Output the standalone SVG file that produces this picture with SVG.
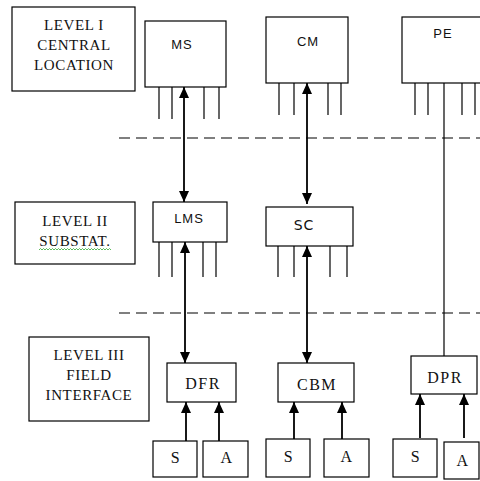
<svg xmlns="http://www.w3.org/2000/svg" width="480" height="481" viewBox="0 0 480 481">
<defs>
<style>
.box{fill:#fff;stroke:#000;stroke-width:1.2}
.pin{stroke:#000;stroke-width:1.2}
.lvl{font-family:"Liberation Serif","Times New Roman",serif;font-size:15px;letter-spacing:0.6px;text-anchor:middle;fill:#111}
.ser{font-family:"Liberation Serif","Times New Roman",serif;font-size:16px;letter-spacing:1.5px;text-anchor:middle;fill:#111}
.san{font-family:"Liberation Sans",Arial,sans-serif;font-size:13px;letter-spacing:1px;text-anchor:middle;fill:#111}
.wide{font-family:"DejaVu Sans",Verdana,sans-serif;font-size:14px;letter-spacing:1px;text-anchor:middle;fill:#111}
.conn{stroke:#000;stroke-width:1.8;fill:none}
.dash{stroke:#000;stroke-width:1.2;stroke-dasharray:11,6;fill:none}
</style>
<marker id="ah" viewBox="0 0 11 10" refX="11" refY="5" markerWidth="11" markerHeight="10" markerUnits="userSpaceOnUse" orient="auto-start-reverse">
<path d="M0,0 L11,5 L0,10 z" fill="#000"/>
</marker>
</defs>
<rect width="480" height="481" fill="#fff"/>

<g id="separators">
<line class="dash" x1="119" y1="138" x2="480" y2="138"/>
<line class="dash" x1="119" y1="313" x2="480" y2="313"/>
</g>

<g id="level1">
<rect class="box" x="12" y="7" width="123" height="84"/>
<text class="lvl" x="74" y="30">LEVEL I</text>
<text class="lvl" x="74" y="50">CENTRAL</text>
<text class="lvl" x="74" y="70">LOCATION</text>
</g>
<g id="level2">
<rect class="box" x="15" y="202" width="120" height="62"/>
<text class="lvl" x="75" y="226">LEVEL II</text>
<text class="lvl" x="75" y="246">SUBSTAT.</text>
<polyline points="39,250 40.5,248.5 42,250 43.5,248.5 45,250 46.5,248.5 48,250 49.5,248.5 51,250 52.5,248.5 54,250 55.5,248.5 57,250 58.5,248.5 60,250 61.5,248.5 63,250 64.5,248.5 66,250 67.5,248.5 69,250 70.5,248.5 72,250 73.5,248.5 75,250 76.5,248.5 78,250 79.5,248.5 81,250 82.5,248.5 84,250 85.5,248.5 87,250 88.5,248.5 90,250 91.5,248.5 93,250 94.5,248.5 96,250 97.5,248.5 99,250 100.5,248.5 102,250 103.5,248.5 105,250 106.5,248.5 108,250 109.5,248.5 111,250" fill="none" stroke="#3a3" stroke-width="0.8"/>
</g>
<g id="level3">
<rect class="box" x="29" y="337" width="120" height="84"/>
<text class="lvl" x="89" y="360">LEVEL III</text>
<text class="lvl" x="89" y="380">FIELD</text>
<text class="lvl" x="89" y="400">INTERFACE</text>
</g>

<g id="MS">
<rect class="box" x="145" y="21" width="81" height="66"/>
<text class="san" x="182" y="49">MS</text>
<line class="pin" x1="159" y1="87" x2="159" y2="119"/>
<line class="pin" x1="172" y1="87" x2="172" y2="119"/>
<line class="pin" x1="204" y1="87" x2="204" y2="119"/>
<line class="pin" x1="219" y1="87" x2="219" y2="119"/>
</g>
<g id="CM">
<rect class="box" x="266" y="17" width="82" height="66"/>
<text class="san" x="308" y="46">CM</text>
<line class="pin" x1="279" y1="83" x2="279" y2="115"/>
<line class="pin" x1="294" y1="83" x2="294" y2="115"/>
<line class="pin" x1="328" y1="83" x2="328" y2="115"/>
<line class="pin" x1="341" y1="83" x2="341" y2="115"/>
</g>
<g id="PE">
<rect class="box" x="402" y="17" width="80" height="66"/>
<text class="san" x="443" y="38">PE</text>
<line class="pin" x1="415" y1="83" x2="415" y2="115"/>
<line class="pin" x1="428" y1="83" x2="428" y2="115"/>
<line class="pin" x1="462" y1="83" x2="462" y2="115"/>
<line class="pin" x1="475" y1="83" x2="475" y2="115"/>
</g>
<g id="LMS">
<rect class="box" x="153" y="202" width="74" height="40"/>
<text class="san" x="189" y="223">LMS</text>
<line class="pin" x1="159" y1="242" x2="159" y2="277"/>
<line class="pin" x1="172" y1="242" x2="172" y2="277"/>
<line class="pin" x1="203" y1="242" x2="203" y2="277"/>
<line class="pin" x1="216" y1="242" x2="216" y2="277"/>
</g>
<g id="SC">
<rect class="box" x="266" y="207" width="87" height="39"/>
<text class="wide" x="304" y="230">SC</text>
<line class="pin" x1="278" y1="246" x2="278" y2="277"/>
<line class="pin" x1="294" y1="246" x2="294" y2="277"/>
<line class="pin" x1="330" y1="246" x2="330" y2="277"/>
<line class="pin" x1="347" y1="246" x2="347" y2="277"/>
</g>
<g id="DFR">
<rect class="box" x="167" y="363" width="69" height="39"/>
<text class="ser" x="203" y="389">DFR</text>
</g>
<g id="CBM">
<rect class="box" x="278" y="363" width="76" height="39"/>
<text class="ser" x="317" y="390">CBM</text>
</g>
<g id="DPR">
<rect class="box" x="411" y="356" width="66" height="38"/>
<text class="ser" x="445" y="383">DPR</text>
</g>
<g id="S1"><rect class="box" x="153" y="441" width="44" height="36"/><text class="ser" x="176" y="463">S</text></g>
<g id="A1"><rect class="box" x="203" y="441" width="45" height="36"/><text class="ser" x="227" y="463">A</text></g>
<g id="S2"><rect class="box" x="266" y="439" width="44" height="38"/><text class="ser" x="289" y="462">S</text></g>
<g id="A2"><rect class="box" x="324" y="439" width="45" height="38"/><text class="ser" x="347" y="462">A</text></g>
<g id="S3"><rect class="box" x="393" y="439" width="44" height="38"/><text class="ser" x="416" y="462">S</text></g>
<g id="A3"><rect class="box" x="444" y="442" width="35" height="37"/><text class="ser" x="463" y="466">A</text></g>

<g id="connectors">
<line class="conn" x1="184" y1="87" x2="184" y2="202" marker-start="url(#ah)" marker-end="url(#ah)"/>
<line class="conn" x1="185" y1="242" x2="185" y2="363" marker-start="url(#ah)" marker-end="url(#ah)"/>
<line class="conn" x1="307" y1="83" x2="307" y2="204" marker-start="url(#ah)" marker-end="url(#ah)"/>
<line class="conn" x1="307" y1="246" x2="307" y2="363" marker-start="url(#ah)" marker-end="url(#ah)"/>
<line class="pin" x1="444" y1="83" x2="444" y2="356"/>
<line class="conn" x1="186" y1="441" x2="186" y2="402" marker-end="url(#ah)"/>
<line class="conn" x1="219" y1="441" x2="219" y2="402" marker-end="url(#ah)"/>
<line class="conn" x1="294" y1="439" x2="294" y2="402" marker-end="url(#ah)"/>
<line class="conn" x1="342" y1="439" x2="342" y2="402" marker-end="url(#ah)"/>
<line class="conn" x1="420" y1="438" x2="420" y2="394" marker-end="url(#ah)"/>
<line class="conn" x1="464" y1="438" x2="464" y2="394" marker-end="url(#ah)"/>
</g>
</svg>
